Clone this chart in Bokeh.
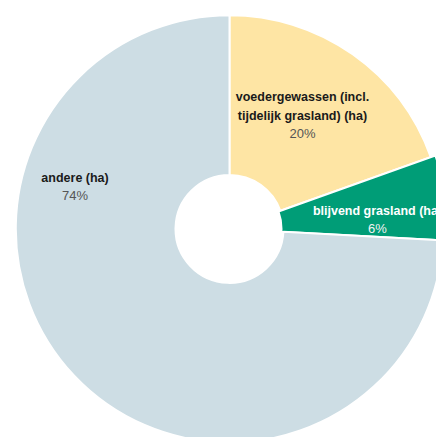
import math
from bokeh.plotting import figure
from bokeh.models import Range1d, ColumnDataSource
from bokeh.core.properties import value
from bokeh.embed import file_html
from bokeh.resources import INLINE

# data
categories = ["voedergewassen (incl.\ntijdelijk grasland) (ha)", "blijvend grasland (ha)", "andere (ha)"]
shares = [19.55, 6.3, 74.15]
pct_labels = ["20%", "6%", "74%"]
colors = ["#fee5a4", "#009d77", "#cddde4"]
label_colors = ["#1a1a1a", "#ffffff", "#1a1a1a"]
pct_colors = ["#555555", "#f2f2f2", "#555555"]
# label placement (polar: degrees clockwise from top, radius in px)
label_angle_deg = [37.3, 89.7, 282.3]
label_radius = [120.4, 148.0, 158.1]
# radii per slice (the green slice is drawn slightly enlarged, as in the reference)
outer_r = [213.7, 218.5, 213.7]
inner_r = [54.0, 52.0, 54.0]

W, H = 436, 437
cx_frame, cy_frame = 229.0, 228.4

p = figure(width=W, height=H, output_backend="svg", toolbar_location=None,
           x_range=Range1d(-cx_frame, W - cx_frame),
           y_range=Range1d(-(H - cy_frame), cy_frame),
           min_border=0)
p.axis.visible = False
p.grid.visible = False
p.outline_line_color = None
p.background_fill_color = "white"

total = sum(shares)
starts, ends = [], []
acc = 0.0
for s in shares:
    a0 = math.pi / 2 - 2 * math.pi * acc / total
    acc += s
    a1 = math.pi / 2 - 2 * math.pi * acc / total
    starts.append(a0)
    ends.append(a1)

src = ColumnDataSource(dict(start=starts, end=ends, color=colors,
                            outer=outer_r, inner=inner_r))
p.annular_wedge(x=0, y=0, inner_radius="inner", outer_radius="outer",
                start_angle="start", end_angle="end", direction="clock",
                fill_color="color", line_color="white", line_width=2, source=src)

lx, ly = [], []
for a, r in zip(label_angle_deg, label_radius):
    t = math.radians(a)
    lx.append(r * math.sin(t))
    ly.append(r * math.cos(t))

FONT = "Liberation Sans"
lsrc = ColumnDataSource(dict(x=lx, y=ly, yn=[y + 10.5 for y in ly], name=categories,
                             pct=pct_labels, nc=label_colors, pc=pct_colors))
p.text(x="x", y="yn", text="name", text_align="center",
       text_baseline="bottom", text_font=value(FONT), text_font_size="12.5px",
       text_font_style="bold", text_color="nc", text_line_height=1.35, source=lsrc)
p.text(x="x", y="y", text="pct", text_align="center", text_baseline="middle",
       text_font=value(FONT), text_font_size="13px", text_color="pc", source=lsrc)

open("out.html", "w").write(file_html(p, INLINE))
